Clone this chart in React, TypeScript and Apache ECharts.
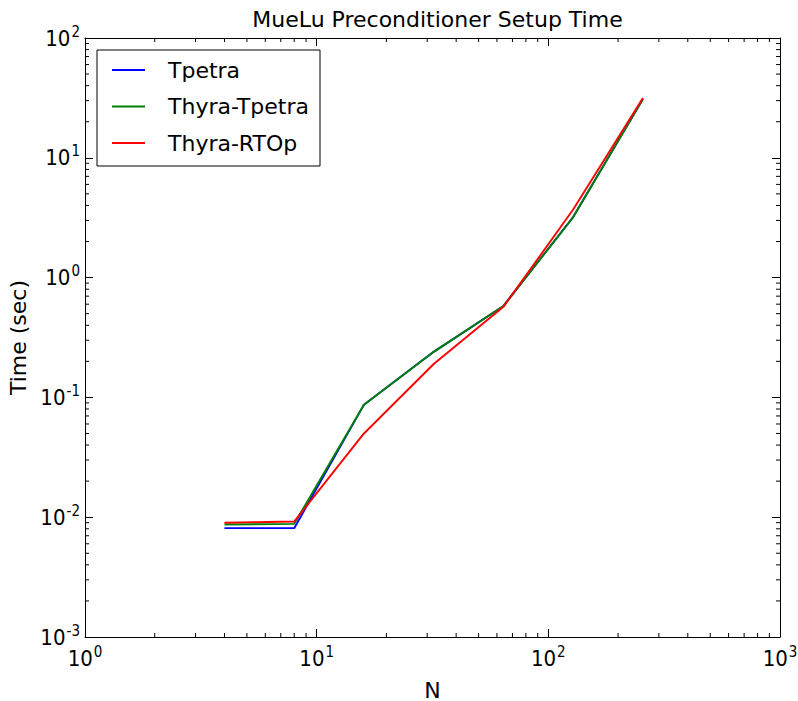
import React, { useEffect, useRef } from "react";
import * as echarts from "echarts";

const N = [4, 8, 16, 32, 64, 128, 256];
const tpetra = [0.0081, 0.0081, 0.087, 0.24, 0.58, 3.2, 31];
const thyraTpetra = [0.0087, 0.0088, 0.087, 0.24, 0.58, 3.2, 31];
const thyraRTOp = [0.0090, 0.0092, 0.050, 0.19, 0.57, 3.7, 31.5];
const seriesNames = ["Tpetra", "Thyra-Tpetra", "Thyra-RTOp"];
const seriesColors = ["#0000ff", "#008000", "#ff0000"];
const xDecades = [1, 10, 100];
const yDecades = [0.001, 0.01, 0.1, 1, 10];
const minorMultipliers = [2, 3, 4, 5, 6, 7, 8, 9];

const FONT = "DejaVu Sans";
const TICK_FONT = "'Liberation Sans Narrow', 'DejaVu Sans Condensed', 'DejaVu Sans'";

export default function App() {
  const ref = useRef<HTMLDivElement>(null);
  useEffect(() => {
    if (!ref.current) return;
    const chart = echarts.init(ref.current, undefined, { renderer: "svg" });
    const xMinor: number[][] = [];
    xDecades.forEach((d) => minorMultipliers.forEach((m) => xMinor.push([d * m, 0.001])));
    const yMinor: number[][] = [];
    yDecades.forEach((d) => minorMultipliers.forEach((m) => yMinor.push([1, d * m])));

    const fmt = (v: number) => {
      const e = Math.round(Math.log10(v));
      return `{b|10}{s|${e}}`;
    };
    const rich = {
      b: { fontSize: 22, fontFamily: TICK_FONT, color: "#000" },
      s: { fontSize: 15, fontFamily: TICK_FONT, color: "#000", verticalAlign: "top", padding: [0, 0, 13, 1] },
    };
    const gridLeft = 85, gridTop = 38, gridW = 695, gridH = 599;

    const datasets = [tpetra, thyraTpetra, thyraRTOp];
    const lineSeries = datasets.map((d, i) => ({
      type: "line",
      name: seriesNames[i],
      data: N.map((n, j) => [n, d[j]]),
      showSymbol: false,
      symbol: "none",
      lineStyle: { color: seriesColors[i], width: 1.9 },
      itemStyle: { color: seriesColors[i] },
      z: 3 + i,
      xAxisIndex: 0,
      yAxisIndex: 0,
    }));

    chart.setOption({
      animation: false,
      backgroundColor: "#fff",
      title: {
        text: "MueLu Preconditioner Setup Time",
        left: gridLeft + gridW / 2,
        textAlign: "center",
        top: 3,
        textStyle: { fontFamily: FONT, fontSize: 22, fontWeight: "normal", color: "#000" },
      },
      grid: { left: gridLeft, top: gridTop, width: gridW, height: gridH, outerBoundsMode: "none", containLabel: false },
      legend: {
        data: seriesNames,
        orient: "vertical",
        left: 107,
        top: 53,
        itemWidth: 33,
        itemHeight: 2,
        itemGap: 12.5,
        icon: "rect",
        textStyle: { fontFamily: FONT, fontSize: 22, color: "#000", padding: [0, 0, 0, 18], lineHeight: 24 },
      },
      graphic: [
        {
          type: "rect",
          shape: { x: 97, y: 50, width: 223, height: 116 },
          style: { fill: "none", stroke: "#000", lineWidth: 1 },
          z: 10,
        },
      ],
      xAxis: [
        {
          type: "log",
          logBase: 10,
          min: 1,
          max: 1000,
          name: "N",
          nameLocation: "middle",
          nameGap: 42,
          nameTextStyle: { fontFamily: FONT, fontSize: 22, color: "#000" },
          axisLine: { show: true, lineStyle: { color: "#000", width: 1 } },
          axisTick: { show: true, inside: true, length: 8, lineStyle: { color: "#000" } },
          axisLabel: { formatter: fmt, rich, margin: 7 },
          splitLine: { show: false },
          minorTick: { show: false },
        },
        {
          type: "log",
          logBase: 10,
          min: 1,
          max: 1000,
          position: "top",
          axisLine: { show: true, lineStyle: { color: "#000", width: 1 } },
          axisTick: { show: true, inside: true, length: 8, lineStyle: { color: "#000" } },
          axisLabel: { show: false },
          splitLine: { show: false },
        },
      ],
      yAxis: [
        {
          type: "log",
          logBase: 10,
          min: 0.001,
          max: 100,
          name: "Time (sec)",
          nameLocation: "middle",
          nameGap: 44,
          nameRotate: 90,
          nameTextStyle: { fontFamily: FONT, fontSize: 22, color: "#000" },
          axisLine: { show: true, lineStyle: { color: "#000", width: 1 } },
          axisTick: { show: true, inside: true, length: 8, lineStyle: { color: "#000" } },
          axisLabel: { formatter: fmt, rich, margin: 5 },
          splitLine: { show: false },
        },
        {
          type: "log",
          logBase: 10,
          min: 0.001,
          max: 100,
          position: "right",
          axisLine: { show: true, lineStyle: { color: "#000", width: 1 } },
          axisTick: { show: true, inside: true, length: 8, lineStyle: { color: "#000" } },
          axisLabel: { show: false },
          splitLine: { show: false },
        },
      ],
      series: [
        ...lineSeries,
        {
          type: "custom",
          name: "xminor",
          silent: true,
          xAxisIndex: 0,
          yAxisIndex: 0,
          clip: false,
          data: xMinor,
          renderItem: (params: any, api: any) => {
            const v = api.value(0);
            const b = api.coord([v, 0.001]);
            const t = api.coord([v, 100]);
            return {
              type: "group",
              children: [
                { type: "line", shape: { x1: b[0], y1: b[1], x2: b[0], y2: b[1] - 4 }, style: { stroke: "#000", lineWidth: 1 } },
                { type: "line", shape: { x1: t[0], y1: t[1], x2: t[0], y2: t[1] + 4 }, style: { stroke: "#000", lineWidth: 1 } },
              ],
            };
          },
        },
        {
          type: "custom",
          name: "yminor",
          silent: true,
          xAxisIndex: 0,
          yAxisIndex: 0,
          clip: false,
          data: yMinor,
          renderItem: (params: any, api: any) => {
            const v = api.value(1);
            const l = api.coord([1, v]);
            const r = api.coord([1000, v]);
            return {
              type: "group",
              children: [
                { type: "line", shape: { x1: l[0], y1: l[1], x2: l[0] + 4, y2: l[1] }, style: { stroke: "#000", lineWidth: 1 } },
                { type: "line", shape: { x1: r[0], y1: r[1], x2: r[0] - 4, y2: r[1] }, style: { stroke: "#000", lineWidth: 1 } },
              ],
            };
          },
        },
      ],
    });
    return () => chart.dispose();
  }, []);
  return (
    <div
      ref={ref}
      style={{ position: "fixed", left: 0, top: 0, width: 798, height: 701, background: "#fff" }}
    />
  );
}
